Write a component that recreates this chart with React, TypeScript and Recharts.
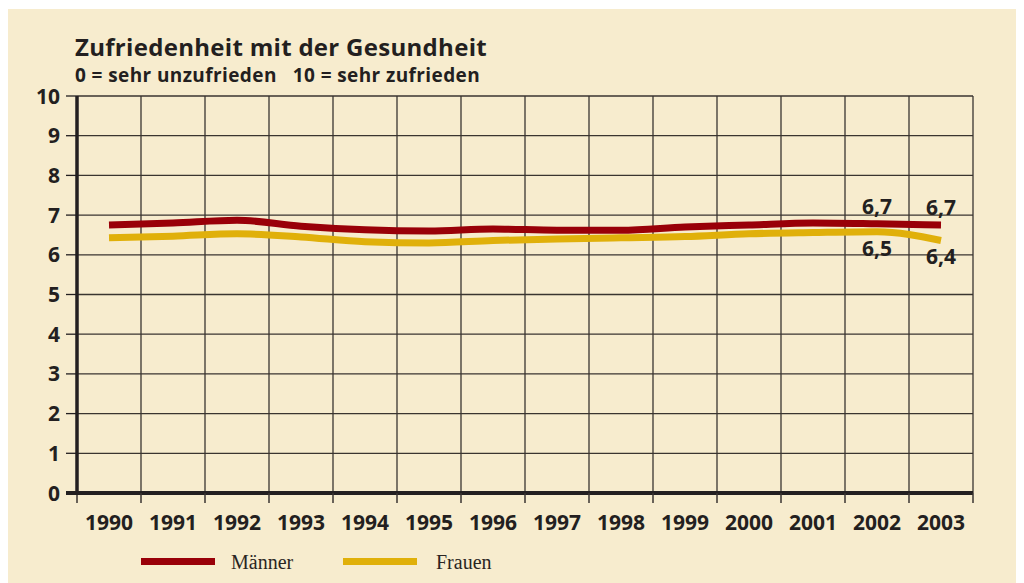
import { LineChart, Line, XAxis, YAxis, CartesianGrid, LabelList } from 'recharts'

const years = ['1990', '1991', '1992', '1993', '1994', '1995', '1996', '1997', '1998', '1999', '2000', '2001', '2002', '2003']
const maenner = [6.75, 6.8, 6.87, 6.72, 6.63, 6.6, 6.65, 6.62, 6.62, 6.7, 6.75, 6.8, 6.78, 6.75]
const frauen = [6.43, 6.47, 6.53, 6.45, 6.33, 6.3, 6.36, 6.4, 6.43, 6.46, 6.53, 6.56, 6.58, 6.36]
const maennerLabels = ['', '', '', '', '', '', '', '', '', '', '', '', '6,7', '6,7']
const frauenLabels = ['', '', '', '', '', '', '', '', '', '', '', '', '6,5', '6,4']
const yTicks = [0, 1, 2, 3, 4, 5, 6, 7, 8, 9, 10]

const RED = '#990008'
const GOLD = '#e0b00a'
const INK = '#231f20'
const BG = '#f7ecce'
const SANS = '"Open Sans", "Noto Sans", sans-serif'

// band boundaries for grid, band centres for the year labels
const gridTicks = years.map((_, i) => i).concat(years.length)
const labelTicks = years.map((_, i) => i + 0.5)

const data = years.map((year, i) => ({
  pos: i + 0.5,
  year,
  m: maenner[i],
  f: frauen[i],
  mLabel: maennerLabels[i],
  fLabel: frauenLabels[i],
}))

function YTick(props: any) {
  const { x, y, payload } = props
  return (
    <g>
      {payload.value === 0 && <line x1={x + 6} x2={x + 18} y1={y} y2={y} stroke={INK} strokeWidth={4} />}
      <text x={x} y={y} dy="0.36em" textAnchor="end" fill={INK} fontFamily={SANS} fontWeight={700} fontSize={21}>
        {payload.value}
      </text>
    </g>
  )
}

function LegendItem({ color, label, left, textLeft }: { color: string; label: string; left: number; textLeft: number }) {
  return (
    <>
      <div style={{ position: 'absolute', left, top: 549, width: 74, height: 7, background: color }} />
      <div style={{ position: 'absolute', left: textLeft, top: 543, fontFamily: '"Liberation Serif", serif', fontSize: 20, lineHeight: '20px', color: '#2a2522' }}>
        {label}
      </div>
    </>
  )
}

export default function App() {
  return (
    <div style={{ position: 'relative', width: 1017, height: 574, marginLeft: -1, marginTop: 1, background: BG }}>
      <div style={{ position: 'absolute', left: 68, top: 26, fontFamily: SANS, fontWeight: 700, fontSize: 24, lineHeight: '24px', letterSpacing: 0.3, color: INK }}>
        Zufriedenheit mit der Gesundheit
      </div>
      <div style={{ position: 'absolute', left: 68, top: 57, fontFamily: SANS, fontWeight: 700, fontSize: 19, lineHeight: '19px', letterSpacing: 0.4, color: INK, whiteSpace: 'pre' }}>
        {'0 = sehr unzufrieden   10 = sehr zufrieden'}
      </div>
      <div style={{ position: 'absolute', left: 0, top: 0 }}>
        <LineChart width={1017} height={574} data={data} margin={{ top: 87, right: 51, left: 0, bottom: 50 }}>
          <CartesianGrid xAxisId="grid" stroke="#3a3530" strokeWidth={1.3} />
          <XAxis
            xAxisId="grid"
            dataKey="pos"
            type="number"
            domain={[0, years.length]}
            allowDataOverflow
            ticks={gridTicks}
            interval={0}
            tickFormatter={() => ''}
            axisLine={{ stroke: INK, strokeWidth: 4 }}
            tickLine={{ stroke: '#3a3530', strokeWidth: 1.5 }}
            tickSize={10}
            height={12}
          />
          <XAxis
            xAxisId="lbl"
            dataKey="pos"
            type="number"
            domain={[0, years.length]}
            allowDataOverflow
            ticks={labelTicks}
            interval={0}
            tickFormatter={(v: number) => years[Math.floor(v)]}
            axisLine={false}
            tickLine={false}
            tickSize={0}
            tickMargin={10}
            height={28}
            tick={{ fill: INK, fontFamily: SANS, fontWeight: 700, fontSize: 21 }}
          />
          <YAxis
            domain={[0, 10]}
            ticks={yTicks}
            interval={0}
            width={70}
            axisLine={{ stroke: INK, strokeWidth: 3.5 }}
            tickLine={{ stroke: INK, strokeWidth: 1.3 }}
            tickSize={11}
            tickMargin={6}
            tick={<YTick />}
          />
          <Line xAxisId="grid" type="monotone" dataKey="f" stroke={GOLD} strokeWidth={7} dot={false} isAnimationActive={false}>
            <LabelList dataKey="fLabel" position="bottom" offset={9} fill={INK} fontFamily={SANS} fontWeight={700} fontSize={21} />
          </Line>
          <Line xAxisId="grid" type="monotone" dataKey="m" stroke={RED} strokeWidth={7} dot={false} isAnimationActive={false}>
            <LabelList dataKey="mLabel" position="top" offset={10} fill={INK} fontFamily={SANS} fontWeight={700} fontSize={21} />
          </Line>
        </LineChart>
      </div>
      <LegendItem color={RED} label="Männer" left={134} textLeft={224} />
      <LegendItem color={GOLD} label="Frauen" left={336} textLeft={429} />
    </div>
  )
}
